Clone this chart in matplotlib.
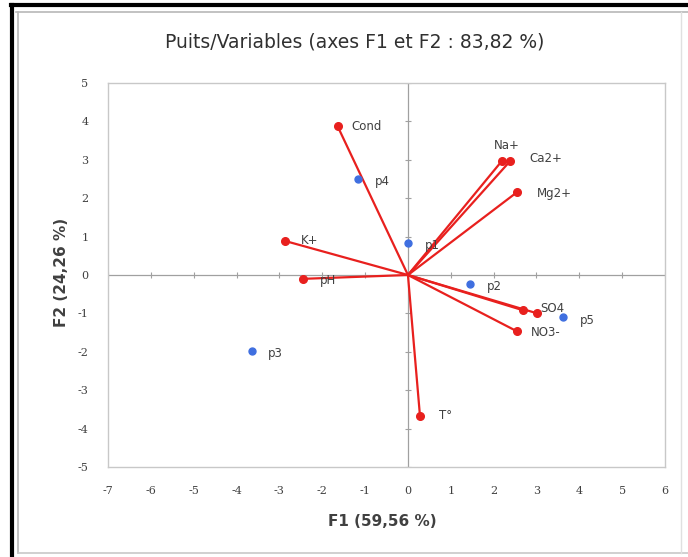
"""
Biplot Puits/Variables (ACP, axes F1 et F2) redrawn with matplotlib.
"""

import matplotlib
matplotlib.use("Agg")
import matplotlib.pyplot as plt
from matplotlib.lines import Line2D
import numpy as np

plt.rcParams["axes.unicode_minus"] = False

# ---------------------------------------------------------------------------
# Data
# ---------------------------------------------------------------------------

var_names = ["Cond", "Na+", "Ca2+", "Mg2+", "K+", "pH", "SO4", "", "NO3-", "T°"]
var_f1 = [-1.64, 2.20, 2.38, 2.55, -2.88, -2.44, 2.69, 3.02, 2.55, 0.28]
var_f2 = [3.87, 2.98, 2.96, 2.16, 0.89, -0.10, -0.92, -1.00, -1.47, -3.66]

obs_names = ["p1", "p2", "p3", "p4", "p5"]
obs_f1 = [0.00, 1.45, -3.65, -1.17, 3.63]
obs_f2 = [0.84, -0.24, -1.97, 2.50, -1.10]

title = "Puits/Variables (axes F1 et F2 : 83,82 %)"
xlabel = "F1 (59,56 %)"
ylabel = "F2 (24,26 %)"
xticks = list(range(-7, 7))
yticks = list(range(-5, 6))

# label offsets in points (dx, dy)
var_offsets = {"Cond": (10, 0), "Na+": (-6, 11), "Ca2+": (14, 2), "Mg2+": (14, -1),
               "K+": (12, 0), "pH": (12, -1), "SO4": (12, 1), "": (0, 0),
               "NO3-": (10, -1), "T°": (14, 0)}

RED = "#e8201e"
BLUE = "#3f6fe0"
TXT = "#404040"

fig = plt.figure(figsize=(6.88, 5.57), dpi=100)

# outer frame of the picture (black on top/left, grey inner lines)
W, H = 688, 557
def fline(x0, y0, x1, y1, color, lw):
    fig.lines.append(Line2D([x0 / W, x1 / W], [1 - y0 / H, 1 - y1 / H],
                            transform=fig.transFigure, color=color, lw=lw))

fline(11, 5, 688, 5, "black", 3)
fline(12, 5, 12, 557, "black", 3)
fline(16, 12, 688, 12, "#b8b8b8", 1.2)
fline(18, 12, 18, 553, "#b8b8b8", 1.2)
fline(18, 553, 688, 553, "#c8c8c8", 1.2)
fline(681, 12, 681, 553, "#e0e0e0", 1.0)

ax = fig.add_axes([0.157, 0.1616, 0.8096, 0.6894])
ax.set_xlim(-7, 6)
ax.set_ylim(-5, 5)

for s in ax.spines.values():
    s.set_color("#c8c8c8")
    s.set_linewidth(1.0)

ax.set_xticks(xticks)
ax.set_yticks(yticks)
ax.tick_params(length=0, labelsize=8, labelcolor=TXT, pad=14)
for lab in ax.get_xticklabels() + ax.get_yticklabels():
    lab.set_family("DejaVu Serif")

# zero axes with small tick marks
ax.axhline(0, color="#a0a0a0", lw=0.9, zorder=1)
ax.axvline(0, color="#a0a0a0", lw=0.9, zorder=1)
ax.plot(xticks, np.zeros(len(xticks)), ls="none", marker="|", ms=5, mew=0.8,
        color="#a0a0a0", zorder=1)
ax.plot(np.zeros(len(yticks)), yticks, ls="none", marker="_", ms=5, mew=0.8,
        color="#a0a0a0", zorder=1)

# variable vectors
for x, y in zip(var_f1, var_f2):
    ax.plot([0, x], [0, y], color=RED, lw=1.6, zorder=3)
ax.plot(var_f1, var_f2, ls="none", marker="o", ms=5.5, color=RED, zorder=4)
for name, x, y in zip(var_names, var_f1, var_f2):
    if not name:
        continue
    dx, dy = var_offsets[name]
    ax.annotate(name, (x, y), xytext=(dx, dy), textcoords="offset points",
                ha="left", va="center", fontsize=8.5, color=TXT, zorder=5)

# observations
ax.plot(obs_f1, obs_f2, ls="none", marker="o", ms=5, color=BLUE, zorder=4)
for name, x, y in zip(obs_names, obs_f1, obs_f2):
    ax.annotate(name, (x, y), xytext=(12, -2), textcoords="offset points",
                ha="left", va="center", fontsize=8.5, color=TXT, zorder=5)

fig.text(0.516, 0.924, title, ha="center", va="center", fontsize=13.5,
         color="#303030")
fig.text(0.556, 0.064, xlabel, ha="center", va="center", fontsize=11,
         fontweight="bold", color="#404040")
fig.text(0.09, 0.51, ylabel, ha="center", va="center", fontsize=11,
         fontweight="bold", color="#404040", rotation=90)

fig.savefig("out.png", dpi=100)
